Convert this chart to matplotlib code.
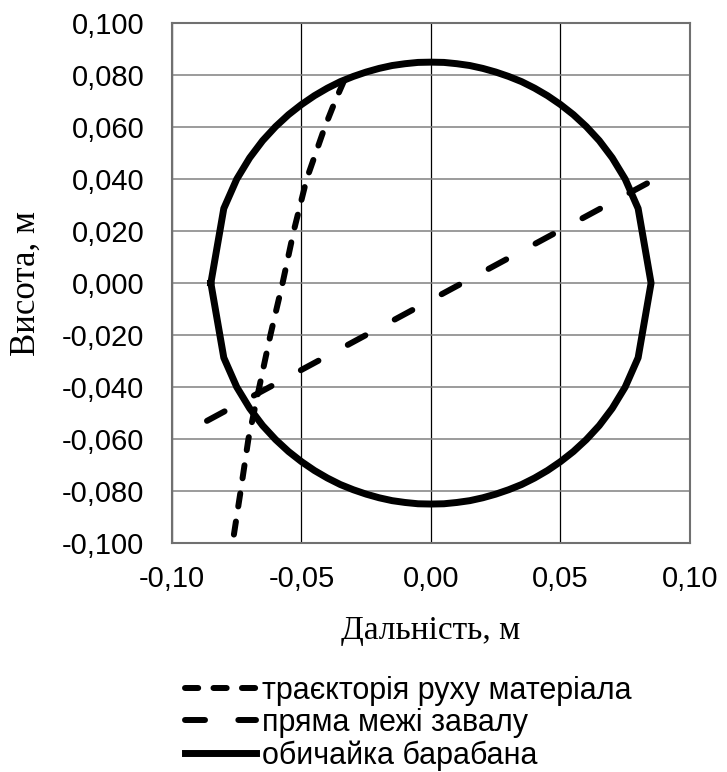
import numpy as np
import matplotlib.pyplot as plt
from matplotlib.ticker import FuncFormatter

plt.rcParams['font.family'] = ['Liberation Sans', 'DejaVu Sans']
plt.rcParams['lines.scale_dashes'] = False

# drum shell (upper half), x step 0.005
shell_x = [-0.085, -0.080, -0.075, -0.070, -0.065, -0.060, -0.055, -0.050, -0.045,
           -0.040, -0.035, -0.030, -0.025, -0.020, -0.015, -0.010, -0.005, 0.000,
           0.005, 0.010, 0.015, 0.020, 0.025, 0.030, 0.035, 0.040, 0.045,
           0.050, 0.055, 0.060, 0.065, 0.070, 0.075, 0.080, 0.085]
shell_top = [0.0, 0.0287, 0.0400, 0.0482, 0.0548, 0.0602, 0.0648, 0.0687, 0.0721,
             0.0750, 0.0775, 0.0795, 0.0812, 0.0826, 0.0837, 0.0844, 0.0849, 0.0850,
             0.0849, 0.0844, 0.0837, 0.0826, 0.0812, 0.0795, 0.0775, 0.0750, 0.0721,
             0.0687, 0.0648, 0.0602, 0.0548, 0.0482, 0.0400, 0.0287, 0.0]

# material trajectory
traj_x = [-0.0335, -0.037, -0.041, -0.048, -0.053, -0.0573, -0.062, -0.0663, -0.0705, -0.0735, -0.0766]
traj_y = [0.078, 0.070, 0.060, 0.040, 0.020, 0.000, -0.020, -0.040, -0.060, -0.080, -0.100]

# boundary line
bound_x = [-0.0865, 0.0865]
bound_y = [-0.053, 0.040]

labels = ['траєкторія руху матеріала', 'пряма межі завалу', 'обичайка барабана']

fig = plt.figure(figsize=(7.27, 7.72), dpi=100)
ax = fig.add_axes([0.2366, 0.2966, 0.7124, 0.6734])

# closed circle: top half left->right, bottom half right->left
circ_x = shell_x + shell_x[::-1]
circ_y = shell_top + [-v for v in shell_top[::-1]]

l1, = ax.plot(traj_x, traj_y, color='black', lw=4.3, dashes=(9.5, 11),
              dash_capstyle='round', label=labels[0], zorder=3)
l2, = ax.plot(bound_x, bound_y, color='black', lw=4.3, dashes=(14.4, 24),
              dash_capstyle='round', label=labels[1], zorder=3)
l3, = ax.plot(circ_x, circ_y, color='black', lw=5, solid_joinstyle='round',
              label=labels[2], zorder=4)

ax.set_xlim(-0.1, 0.1)
ax.set_ylim(-0.1, 0.1)
ax.set_xticks(np.arange(-0.1, 0.1001, 0.05))
ax.set_yticks(np.arange(-0.1, 0.1001, 0.02))
ax.xaxis.set_major_formatter(FuncFormatter(lambda v, p: f'{v:.2f}'.replace('.', ',').replace('-0,00', '0,00')))
ax.yaxis.set_major_formatter(FuncFormatter(lambda v, p: f'{v:.3f}'.replace('.', ',').replace('-0,000', '0,000')))
ax.tick_params(length=0, labelsize=21)
ax.tick_params(axis='x', pad=16)
ax.tick_params(axis='y', pad=20)
ax.grid(axis='x', color='black', lw=0.9)
ax.grid(axis='y', color='#808080', lw=1.1)
ax.set_axisbelow(True)
for s in ax.spines.values():
    s.set_color('#707070')
    s.set_linewidth(1.5)

ax.set_xlabel('Дальність, м', family='Liberation Serif', fontsize=24)
ax.set_ylabel('Висота, м', family='Liberation Serif', fontsize=25)
ax.xaxis.set_label_coords(0.5, -0.14)
ax.yaxis.set_label_coords(-0.25, 0.5)

fig.legend(handles=[l1, l2, l3], loc='center left', bbox_to_anchor=(0.255, 0.063),
           frameon=False, fontsize=22, handlelength=2.3, handletextpad=0.2,
           labelspacing=0.08, borderpad=0, borderaxespad=0)

fig.savefig('out.png', dpi=100)
